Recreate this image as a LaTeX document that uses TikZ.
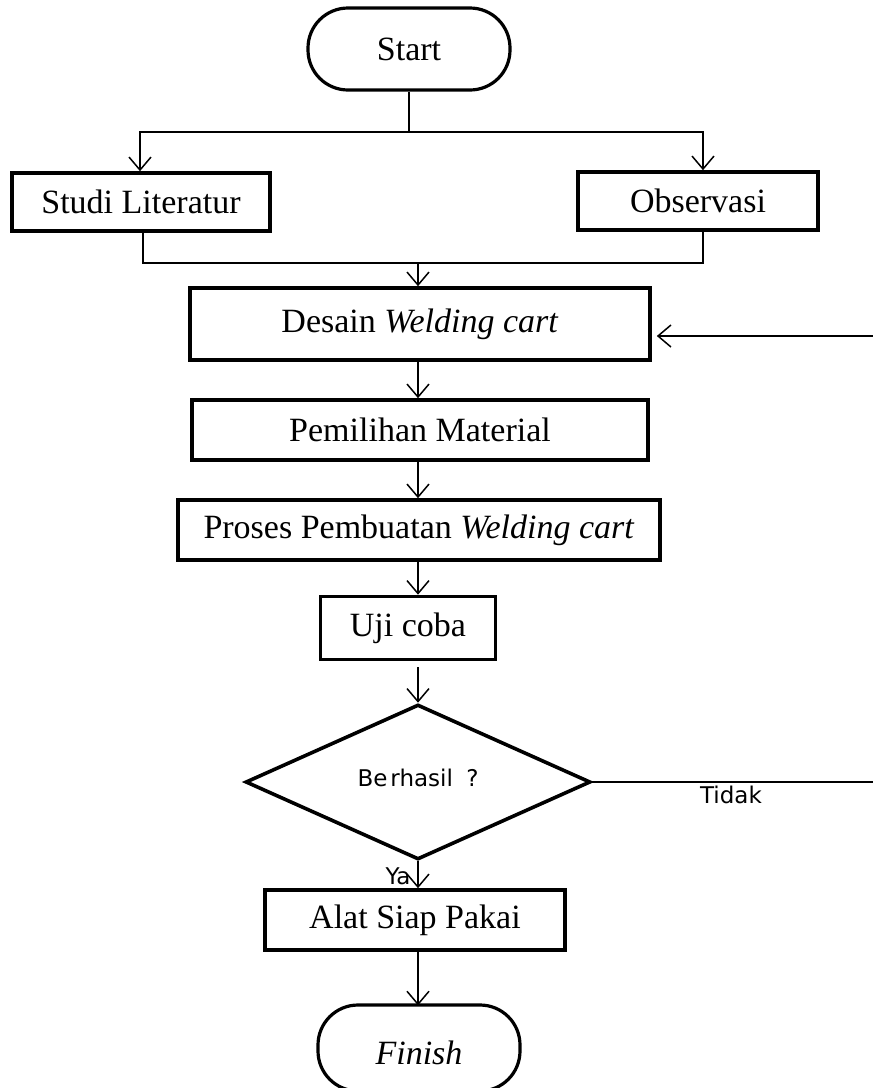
\documentclass[tikz,border=0pt]{standalone}
\usepackage{fontspec}
\setmainfont{Liberation Serif}
\newfontfamily\verd{DejaVu Sans}
\usetikzlibrary{shapes.geometric,arrows.meta}
\begin{document}
\begin{tikzpicture}[x=1pt,y=-1pt,
  every node/.style={font=\fontsize{34}{38}\selectfont, inner sep=0pt},
  procbox/.style={draw, line width=3.6pt, rectangle, align=center},
  term/.style={draw, line width=3.2pt, rectangle, rounded corners=40pt},
  link/.style={line width=1.5pt},
  arr/.style={line width=1.5pt, -{Straight Barb[length=13pt,width=22pt,line width=1.5pt]}},
  lbl/.style={font=\verd\fontsize{23}{26}\selectfont}]
\useasboundingbox (0,0) rectangle (873,1088);
\node[term, minimum width=202pt, minimum height=82pt] (start) at (409,49) {Start};
\node[procbox, minimum width=258pt, minimum height=58pt] (studi) at (141,202) {Studi Literatur};
\node[procbox, minimum width=240pt, minimum height=58pt] (obs) at (698,201) {Observasi};
\node[procbox, minimum width=460pt, minimum height=72pt] (desain) at (420,324) {Desain \textit{Welding cart}};
\node[procbox, minimum width=456pt, minimum height=60pt] (pilih) at (420,430) {Pemilihan Material};
\node[procbox, minimum width=482pt, minimum height=60pt] (proses) at (419,530) {Proses Pembuatan \textit{Welding cart}};
\node[procbox, minimum width=175pt, minimum height=63pt] (uji) at (408,628) {Uji coba};
\node[draw, line width=3.6pt, diamond, minimum width=345pt, minimum height=155pt, inner sep=0pt] (dec) at (418,782) {};
\node[lbl] (berhasil) at (418,778) {Be\kern3pt rhasil\kern6pt\ ?};
\node[procbox, minimum width=300pt, minimum height=60pt] (alat) at (415,920) {Alat Siap Pakai};
\node[term, minimum width=202pt, minimum height=86pt, text height=32pt, text depth=0pt] (finish) at (419,1048) {\textit{Finish}};
\node[lbl] (tidak) at (731,795) {Tidak};
\node[lbl] (ya) at (398,876) {Ya};
\coordinate (j1) at (409,132);
\coordinate (j2) at (418,263);
\coordinate (fb) at (873,336);
\coordinate (no) at (873,782);
\draw[link] (start) -- (j1);
\draw[arr] (j1) -| ([xshift=-1pt]studi.north);
\draw[arr] (j1) -| ([xshift=5pt]obs.north);
\draw[link] ([xshift=2pt]studi.south) |- (j2);
\draw[link] (j2) -| ([xshift=5pt]obs.south);
\draw[arr] (j2) -- (j2 |- desain.north);
\draw[arr] (desain.south -| 418,0) -- (pilih.north -| 418,0);
\draw[arr] (pilih.south -| 418,0) -- (proses.north -| 418,0);
\draw[arr] (proses.south -| 418,0) -- (uji.north -| 418,0);
\draw[arr] ([yshift=-6pt]uji.south -| 418,0) -- (dec.north);
\draw[arr] (dec.south) -- (alat.north -| 418,0);
\draw[arr] (alat.south -| 418,0) -- ([yshift=-2pt]finish.north -| 418,0);
\draw[link] (dec.east) -- (no);
\draw[arr, shorten >=5pt] (fb) -- (desain.east |- fb);
\end{tikzpicture}
\end{document}
